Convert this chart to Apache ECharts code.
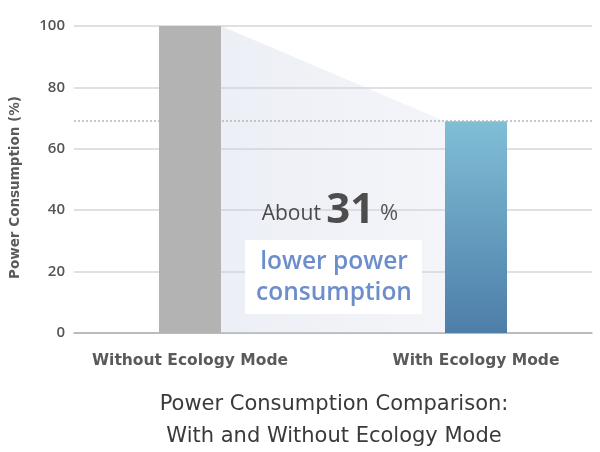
<!DOCTYPE html>
<html>
<head>
<meta charset="utf-8">
<script src="https://cdn.jsdelivr.net/npm/echarts@6/dist/echarts.min.js"></script>
<style>html,body{margin:0;padding:0;background:#fff}#c{width:600px;height:452px}</style>
</head>
<body>
<div id="c"></div>
<script>
const categories = ['Without Ecology Mode', 'With Ecology Mode'];
const barValues = [100, 69];
const yTicks = [0, 20, 40, 60, 80, 100];
const yAxisName = 'Power Consumption (%)';
const titleLines = ['Power Consumption Comparison:', 'With and Without Ecology Mode'];
const noteAbout = 'About';
const noteValue = '31';
const noteUnit = '%';
const noteLines = ['lower power', 'consumption'];

const FONT = 'Open Sans';
const WIDE = 'DejaVu Sans';
const chart = echarts.init(document.getElementById('c'), null, {renderer: 'canvas', devicePixelRatio: 1});
const BW = 62;

chart.setOption({
  animation: false,
  backgroundColor: '#fff',
  grid: [
    {left: 73, right: 8, top: 26, bottom: 119},
    {left: 190, right: 124, top: 26, bottom: 119}
  ],
  xAxis: [
    {gridIndex: 0, type: 'category', data: categories, show: true,
     axisLine: {lineStyle: {color: '#b0b0b0', width: 1.5}}, axisTick: {show: false}, axisLabel: {show: false}},
    {gridIndex: 1, type: 'category', data: categories, boundaryGap: false,
     axisLine: {show: false}, axisTick: {show: false},
     axisLabel: {color: '#5a5a5a', fontSize: 15.5, fontFamily: WIDE, fontWeight: 'bold', margin: 20}}
  ],
  yAxis: [
    {gridIndex: 0, type: 'value', min: yTicks[0], max: yTicks[yTicks.length-1], interval: 20,
     name: yAxisName, nameLocation: 'middle', nameRotate: 90, nameGap: 52,
     nameTextStyle: {color: '#5a5a5a', fontSize: 13.5, fontFamily: WIDE, fontWeight: 'bold', padding: [0, 16, 0, 0]},
     axisLine: {show: false}, axisTick: {show: false},
     axisLabel: {color: '#555', fontSize: 15, fontFamily: FONT, fontWeight: 600, margin: 9},
     splitLine: {lineStyle: {color: '#d6d6d6', width: 1.5}}},
    {gridIndex: 1, type: 'value', min: 0, max: 100, show: false, splitLine: {show: false}}
  ],
  series: [
    {
      type: 'line', xAxisIndex: 0, yAxisIndex: 0, data: barValues, symbol: 'none',
      lineStyle: {opacity: 0}, silent: true,
      markLine: {silent: true, symbol: 'none', label: {show: false},
        lineStyle: {color: '#b5b5b5', type: [2, 2], width: 1.5},
        data: [{yAxis: barValues[1]}]}
    },
    {
      type: 'custom', xAxisIndex: 1, yAxisIndex: 1, data: [0], silent: true, z: 1,
      renderItem: function (params, api) {
        const a = api.coord([0, barValues[0]]);
        const b = api.coord([1, barValues[1]]);
        const b0 = api.coord([1, 0]);
        const a0 = api.coord([0, 0]);
        const h = BW / 2;
        return {
          type: 'polygon',
          shape: {points: [[a[0] + h, a[1]], [b[0] - h, b[1]], [b0[0] - h, b0[1]], [a0[0] + h, a0[1]]]},
          style: {fill: new echarts.graphic.LinearGradient(0, 0, 1, 0, [
            {offset: 0, color: 'rgba(200,208,228,0.34)'},
            {offset: 1, color: 'rgba(210,216,232,0.26)'}
          ])}
        };
      }
    },
    {
      type: 'bar', xAxisIndex: 1, yAxisIndex: 1, barWidth: BW, z: 3,
      data: [
        {value: barValues[0], itemStyle: {color: '#b3b3b3'}},
        {value: barValues[1], itemStyle: {color: new echarts.graphic.LinearGradient(0, 0, 0, 1, [
          {offset: 0, color: '#80bed6'},
          {offset: 1, color: '#4d7ea9'}
        ])}}
      ]
    }
  ],
  graphic: [
    {type: 'rect', left: 245, top: 240, shape: {width: 177, height: 74}, style: {fill: '#fff'}, z: 10},
    {type: 'text', x: 334, y: 278, z: 11,
     style: {text: noteLines.join('\n'), fill: '#6d8ecb', font: '600 24.5px "' + FONT + '"', align: 'center', verticalAlign: 'middle', lineHeight: 31}},
    {type: 'text', x: 330, y: 211, z: 11,
     style: {text: '{a|' + noteAbout + ' }{b|' + noteValue + '}{c| ' + noteUnit + '}', align: 'center', verticalAlign: 'middle',
       rich: {
         a: {fontSize: 21, fontFamily: FONT, fill: '#4a4a4a', padding: [6, 0, 0, 0]},
         b: {fontSize: 42, fontFamily: FONT, fontWeight: 700, fill: '#4d4d4d'},
         c: {fontSize: 22, fontFamily: FONT, fill: '#555', padding: [6, 0, 0, 0]}
       }}},
    {type: 'text', x: 334, y: 421, z: 11,
     style: {text: titleLines.join('\n'), fill: '#3a3a3a', font: 'normal 21px "' + WIDE + '"', align: 'center', verticalAlign: 'middle', lineHeight: 32}}
  ]
});
</script>
</body>
</html>
